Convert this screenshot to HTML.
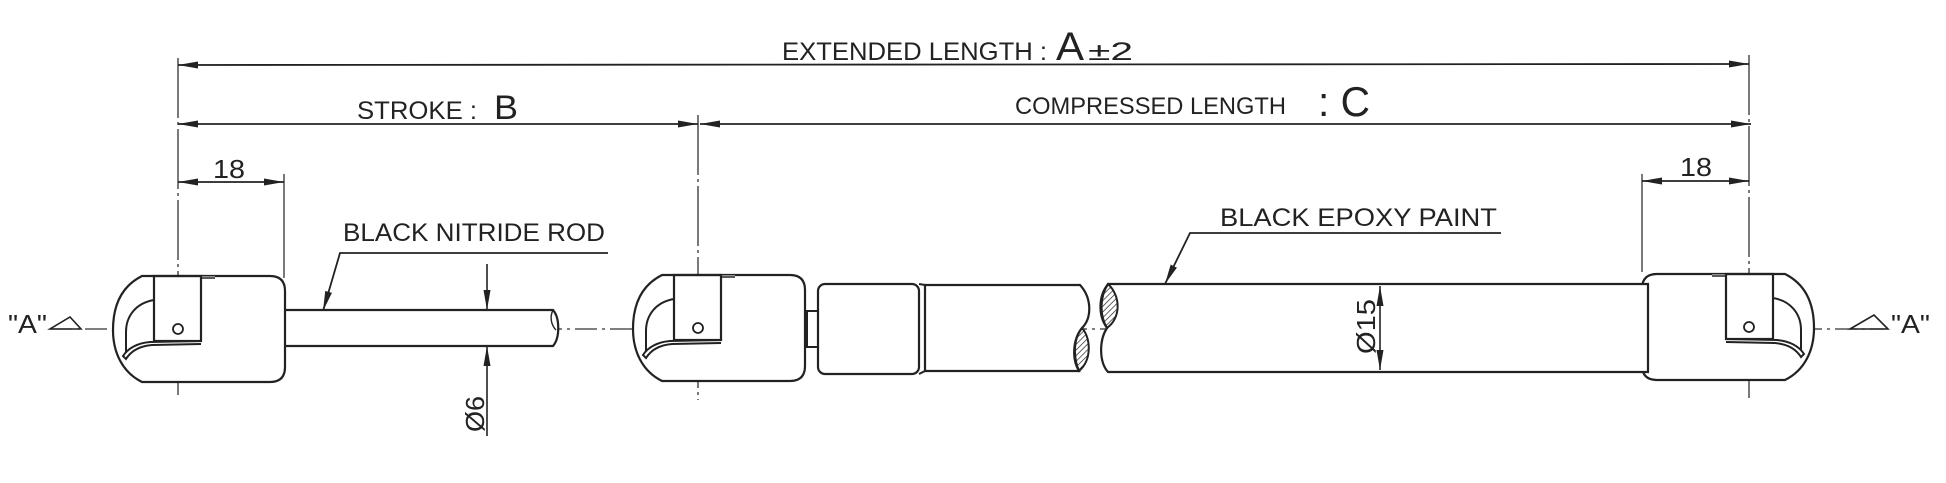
<!DOCTYPE html>
<html><head><meta charset="utf-8"><style>
html,body{margin:0;padding:0;background:#fff;}
svg{display:block;}
text{font-family:"Liberation Sans",sans-serif;fill:#222;}
</style></head><body>
<svg width="1946" height="483" viewBox="0 0 1946 483" xmlns="http://www.w3.org/2000/svg">
<defs>
<pattern id="h" width="4" height="4" patternUnits="userSpaceOnUse" patternTransform="rotate(45)">
<line x1="0" y1="0" x2="0" y2="4" stroke="#222" stroke-width="1.4"/>
</pattern>
<g id="fit">
<path d="M142,276 L270,276 Q285,276 285,291 L285,367 Q285,382 270,382 L142,382 C122,372 113,352 113,330 C113,305 122,286 142,276 Z" fill="#fff" stroke="#222" stroke-width="2.2"/>
<path d="M201,277.5 L215,277.5" stroke="#fff" stroke-width="2"/>
<path d="M201,278 L215,278" stroke="#222" stroke-width="1.5"/>
<rect x="154" y="276" width="47" height="65" fill="none" stroke="#222" stroke-width="2.2"/>
<path d="M154,300 C136,303 126,316 126,332 L126,352" fill="none" stroke="#222" stroke-width="2"/>
<path d="M201,341 L150,342 C138,343 128,348 123,356 L126,359 C131,351 140,346 152,345 L201,344" fill="none" stroke="#222" stroke-width="2"/>
<circle cx="178" cy="329" r="5" fill="#fff" stroke="#222" stroke-width="1.8"/>
</g>
<marker id="ar" viewBox="0 0 20 10" refX="20" refY="5" markerWidth="20" markerHeight="10" markerUnits="userSpaceOnUse" orient="auto-start-reverse">
<path d="M0,1.5 L20,5 L0,8.5 Z" fill="#222"/>
</marker>
</defs>

<line x1="50" y1="329" x2="1885" y2="329" stroke="#333" stroke-width="1.3" stroke-dasharray="22,5,3,5"/>

<g stroke="#333" stroke-width="1.3" fill="none">
<line x1="178" y1="58" x2="178" y2="395" stroke-dasharray="60,4,3,4"/>
<line x1="698" y1="115" x2="698" y2="400" stroke-dasharray="60,4,3,4"/>
<line x1="1749" y1="55" x2="1749" y2="398" stroke-dasharray="60,4,3,4"/>
<line x1="284" y1="174" x2="284" y2="278"/>
<line x1="1642" y1="174" x2="1642" y2="272"/>
</g>

<g stroke="#222" stroke-width="1.8" fill="none">
<line x1="178" y1="65" x2="1749" y2="64" marker-start="url(#ar)" marker-end="url(#ar)"/>
<line x1="178" y1="124" x2="698" y2="124" marker-start="url(#ar)" marker-end="url(#ar)"/>
<line x1="700" y1="124" x2="1751" y2="124" marker-start="url(#ar)" marker-end="url(#ar)"/>
<line x1="178" y1="182" x2="284" y2="182" marker-start="url(#ar)" marker-end="url(#ar)"/>
<line x1="1642" y1="181" x2="1749" y2="181" marker-start="url(#ar)" marker-end="url(#ar)"/>
</g>

<text x="782" y="60" font-size="25" textLength="265" lengthAdjust="spacingAndGlyphs">EXTENDED LENGTH :</text>
<text x="1056" y="60" font-size="40" textLength="28" lengthAdjust="spacingAndGlyphs">A</text>
<text x="1088" y="60" font-size="25" textLength="45" lengthAdjust="spacingAndGlyphs">±2</text>
<text x="357" y="119" font-size="25" textLength="120" lengthAdjust="spacingAndGlyphs">STROKE :</text>
<text x="494" y="119" font-size="34" textLength="24" lengthAdjust="spacingAndGlyphs">B</text>
<text x="1015" y="114" font-size="24" textLength="271" lengthAdjust="spacingAndGlyphs">COMPRESSED LENGTH</text>
<text x="1318" y="116" font-size="42" textLength="52" lengthAdjust="spacingAndGlyphs">: C</text>
<text x="213" y="178" font-size="26" textLength="32" lengthAdjust="spacingAndGlyphs">18</text>
<text x="1680" y="176" font-size="26" textLength="32" lengthAdjust="spacingAndGlyphs">18</text>
<text x="343" y="241" font-size="25" textLength="262" lengthAdjust="spacingAndGlyphs" fill="#444">BLACK NITRIDE ROD</text>
<text x="1220" y="226" font-size="25" textLength="277" lengthAdjust="spacingAndGlyphs">BLACK EPOXY PAINT</text>
<text x="8" y="333" font-size="26" textLength="39" lengthAdjust="spacingAndGlyphs">"A"</text>
<text x="1891" y="333" font-size="26" textLength="39" lengthAdjust="spacingAndGlyphs">"A"</text>
<text transform="translate(484,432) rotate(-90)" font-size="26" textLength="36" lengthAdjust="spacingAndGlyphs">Ø6</text>

<path d="M50,329 L81,329 L70,317 Z" fill="none" stroke="#222" stroke-width="1.6"/>
<path d="M1850,329 L1888,329 L1874,315 Z" fill="none" stroke="#222" stroke-width="1.6"/>

<g stroke="#222" stroke-width="1.8" fill="none">
<polyline points="608,253 340,253 323,311" marker-end="url(#ar)"/>
<polyline points="1501,233 1190,233 1165,284" marker-end="url(#ar)"/>
</g>

<path d="M285,310 L553,310 C560,318 560,338 553,346 L285,346" fill="#fff" stroke="#222" stroke-width="2.2"/>
<path d="M553,310 C549,318 552,326 556,330" fill="none" stroke="#222" stroke-width="1.4"/>
<g stroke="#222" stroke-width="1.6" fill="none">
<line x1="487" y1="264" x2="487" y2="310" marker-end="url(#ar)"/>
<line x1="487" y1="436" x2="487" y2="346" marker-end="url(#ar)"/>
</g>

<use href="#fit"/>
<use href="#fit" transform="translate(520,-1)"/>
<use href="#fit" transform="translate(1927,-2) scale(-1,1)"/>

<rect x="807" y="311" width="11" height="36" fill="#fff" stroke="#222" stroke-width="2"/>
<rect x="818" y="284" width="101" height="90" rx="7" fill="#fff" stroke="#222" stroke-width="2.2"/>
<path d="M925,285 L1080,285 C1092,298 1092,318 1082,328 C1072,340 1074,360 1079,371 L925,371 Z" fill="#fff" stroke="#222" stroke-width="2.2"/>
<path d="M1082,328 C1091,338 1092,360 1079,371 C1072,360 1072,340 1082,328 Z" fill="url(#h)" stroke="#222" stroke-width="2"/>
<path d="M1108,284 L1648,284 L1648,372 L1108,372 C1099,362 1099,340 1107,328 C1099,315 1100,296 1108,284 Z" fill="#fff" stroke="#222" stroke-width="2.2"/>
<path d="M1108,284 C1121,296 1121,318 1107,328 C1098,316 1098,296 1108,284 Z" fill="url(#h)" stroke="#222" stroke-width="2"/>
<line x1="919" y1="284" x2="925" y2="285" stroke="#222" stroke-width="2"/>
<line x1="919" y1="374" x2="925" y2="371" stroke="#222" stroke-width="2"/>
<line x1="1380" y1="286" x2="1380" y2="370" stroke="#222" stroke-width="1.6" marker-start="url(#ar)" marker-end="url(#ar)"/>
<text transform="translate(1375,354) rotate(-90)" font-size="26" textLength="55" lengthAdjust="spacingAndGlyphs">Ø15</text>
</svg>
</body></html>
